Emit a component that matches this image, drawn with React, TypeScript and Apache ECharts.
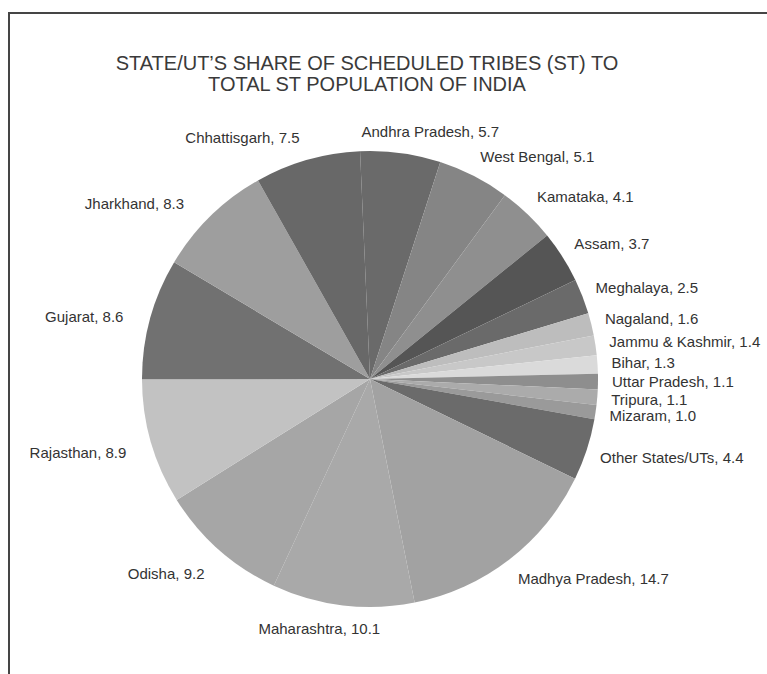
import React, { useEffect, useRef } from "react";
import * as echarts from "echarts";

const states = [
  "Andhra Pradesh",
  "West Bengal",
  "Kamataka",
  "Assam",
  "Meghalaya",
  "Nagaland",
  "Jammu & Kashmir",
  "Bihar",
  "Uttar Pradesh",
  "Tripura",
  "Mizaram",
  "Other States/UTs",
  "Madhya Pradesh",
  "Maharashtra",
  "Odisha",
  "Rajasthan",
  "Gujarat",
  "Jharkhand",
  "Chhattisgarh",
];

const shares = [5.7, 5.1, 4.1, 3.7, 2.5, 1.6, 1.4, 1.3, 1.1, 1.1, 1.0, 4.4, 14.7, 10.1, 9.2, 8.9, 8.6, 8.3, 7.5];

const shades = [
  "#6a6a6a",
  "#858585",
  "#8f8f8f",
  "#555555",
  "#6a6a6a",
  "#bdbdbd",
  "#c8c8c8",
  "#dadada",
  "#8e8e8e",
  "#ababab",
  "#9a9a9a",
  "#6b6b6b",
  "#a2a2a2",
  "#a9a9a9",
  "#a6a6a6",
  "#c2c2c2",
  "#717171",
  "#9e9e9e",
  "#686868",
];

const titleLines = ["STATE/UT\u2019S SHARE OF SCHEDULED TRIBES (ST) TO", "TOTAL ST POPULATION OF INDIA"];

// layout constants
const CX = 370;
const CY = 379;
const R = 228;
const START = 92.5; // echarts start angle (degrees, counter-clockwise from 3 o'clock)

const clamp = (v: number, a: number, b: number) => Math.max(a, Math.min(b, v));

export default function App() {
  const ref = useRef<HTMLDivElement>(null);
  useEffect(() => {
    if (!ref.current) return;
    const chart = echarts.init(ref.current, undefined, { renderer: "svg" });
    const total = shares.reduce((a, b) => a + b, 0);
    const mids: number[] = [];
    let cum = 0;
    shares.forEach((v) => {
      // angle clockwise from 12 o'clock, in degrees
      mids.push(((cum + v / 2) / total) * 360 - (START - 90));
      cum += v;
    });
    const data = states.map((name, i) => ({
      name,
      value: shares[i],
      itemStyle: { color: shades[i] },
    }));
    chart.setOption({
      animation: false,
      backgroundColor: "#ffffff",
      title: {
        text: titleLines.join("\n"),
        left: 367,
        top: 52,
        padding: 0,
        textAlign: "center",
        textStyle: {
          fontFamily: "Liberation Sans, Arial, sans-serif",
          fontSize: 20,
          fontWeight: "normal",
          color: "#3a3a3a",
          lineHeight: 21,
        },
      },
      graphic: [
        { type: "line", shape: { x1: 8, y1: 13, x2: 767, y2: 13 }, style: { stroke: "#454545", lineWidth: 2 } },
        { type: "line", shape: { x1: 9, y1: 12, x2: 9, y2: 674 }, style: { stroke: "#454545", lineWidth: 2 } },
      ],
      series: [
        {
          type: "pie",
          center: [CX, CY],
          radius: R,
          startAngle: START,
          clockwise: true,
          data,
          itemStyle: { borderWidth: 0 },
          label: {
            show: true,
            position: "outside",
            fontFamily: "Liberation Sans, Arial, sans-serif",
            fontSize: 15,
            color: "#333333",
            formatter: (p: any) => `${p.name}, ${Number(p.value).toFixed(1)}`,
          },
          labelLine: { show: false, length: 10, length2: 0 },
          labelLayout: (params: any) => {
            const m = mids[params.dataIndex];
            const m0 = (m * Math.PI) / 180;
            const shift = 7 * Math.max(0, -Math.sin(m0)) * Math.max(0, Math.cos(m0));
            const th = ((m - shift) * Math.PI) / 180;
            const s = Math.sin(th);
            const c = Math.cos(th);
            const g = 14 + 12 * Math.max(0, -s);
            const ax = CX + (R + g) * s;
            const ay = CY - (R + g) * c;
            const w = params.labelRect.width;
            const h = params.labelRect.height;
            const fx = clamp(s * 3, -1, 1);
            const fy = clamp(c * 1.5, -1, 1);
            return {
              x: ax + (fx * w) / 2,
              y: ay - (fy * h) / 2,
              align: "center",
              verticalAlign: "middle",
            };
          },
          emphasis: { disabled: true },
        },
      ],
    });
    return () => chart.dispose();
  }, []);
  return (
    <div
      ref={ref}
      style={{ position: "fixed", left: 0, top: 0, width: 767, height: 674, background: "#fff" }}
    />
  );
}
